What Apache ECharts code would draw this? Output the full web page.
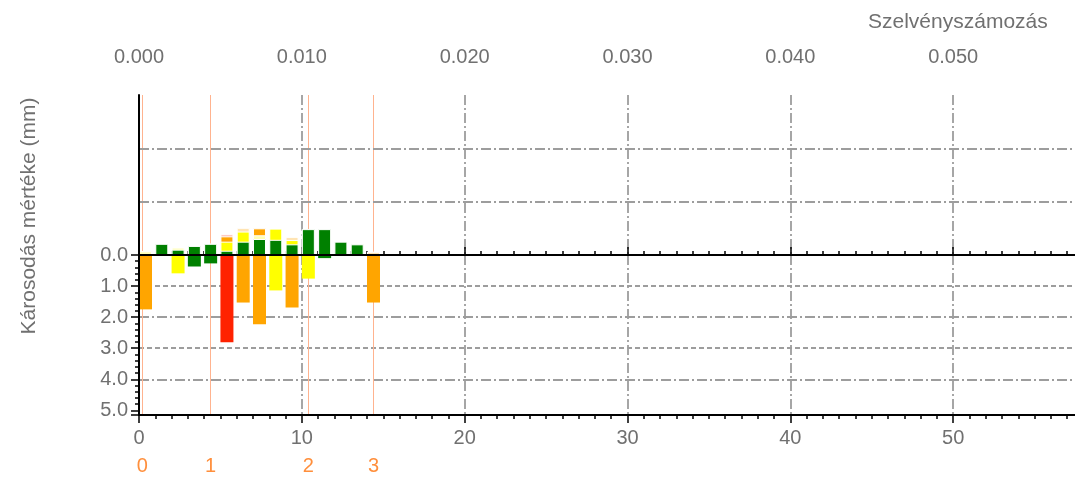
<!DOCTYPE html>
<html>
<head>
<meta charset="utf-8">
<script src="https://cdn.jsdelivr.net/npm/echarts@6/dist/echarts.min.js"></script>
<style>
  html, body { margin: 0; padding: 0; background: #fff; }
  #chart { width: 1075px; height: 477px; }
</style>
</head>
<body>
<div id="chart"></div>
<script>
// Section centres along the route (m)
const positions = [0.4, 1.4, 2.4, 3.4, 4.4, 5.4, 6.4, 7.4, 8.4, 9.4, 10.4, 11.4, 12.4, 13.4, 14.4];
// Damage depth below the reference line (mm)
const depthMm = [1.75, 0, 0.59, 0.37, 0.27, 2.81, 1.53, 2.23, 1.14, 1.69, 0.76, 0.10, 0, 0, 1.53];
// Extent of each damage class, stacked above the reference line
const shareGreen  = [0, 2.1, 1.0, 1.7, 2.1, 0.8, 2.5, 3.0, 2.85, 2.0, 4.85, 4.85, 2.5, 2.0, 0];
const shareYellow = [0.7, 0, 0.4, 0, 0, 1.7, 1.9, 0.7, 2.1, 0.8, 0, 0, 0, 0, 0];
const shareOrange = [0, 0, 0, 0, 0, 1.0, 0.7, 1.3, 0, 0.6, 0, 0, 0, 0, 0.6];
const shareRed    = [0, 0, 0, 0, 0, 0.4, 0, 0, 0, 0, 0, 0, 0, 0, 0];
// Kilometre posts
const postPositions = [0.2, 4.4, 10.4, 14.4];
const postLabels = ['0', '1', '2', '3'];

const FONT = '"Liberation Sans", Arial, sans-serif';
const FONT_SIZE = 20;
const TEXT = '#707070';
const GRID_GREY = '#9d9d9d';
const POST_LINE = '#ffb38f';
const POST_TEXT = '#ff8f3c';
const C = { green: '#008000', yellow: '#ffff00', orange: '#ffa500', red: '#ff2200' };
const X_MAX = 60;
const BAR_W = 13;

function depthColor(v) {
  if (v < 0.5) return C.green;
  if (v < 1.5) return C.yellow;
  if (v < 2.5) return C.orange;
  return C.red;
}
// very thin slices are drawn washed out
function tint(hex, k) {
  const n = parseInt(hex.slice(1), 16);
  const ch = [(n >> 16) & 255, (n >> 8) & 255, n & 255].map(c => Math.round(c + (255 - c) * k));
  return 'rgb(' + ch.join(',') + ')';
}

// stacked classes drawn as overlapping cumulative bars, tallest first
const layers = [
  { name: 'piros', values: shareRed, color: C.red },
  { name: 'narancs', values: shareOrange, color: C.orange },
  { name: 'sárga', values: shareYellow, color: C.yellow },
  { name: 'zöld', values: shareGreen, color: C.green }
];
const order = [shareGreen, shareYellow, shareOrange, shareRed];
function cumulative(levels) {
  return positions.map((p, i) => {
    let s = 0;
    for (let k = 0; k < levels; k++) s += order[k][i];
    return s;
  });
}
const upperSeries = layers.map((layer, li) => {
  const levels = 4 - li;
  const tops = cumulative(levels);
  return {
    name: layer.name,
    type: 'bar',
    xAxisIndex: 1,
    yAxisIndex: 0,
    barWidth: BAR_W,
    barGap: '-100%',
    z: 2,
    silent: true,
    data: positions.map((p, i) => ({
      value: [p, tops[i]],
      itemStyle: { color: layer.values[i] < 0.75 ? tint(layer.color, 0.7) : layer.color }
    })),
    itemStyle: { borderColor: '#ffffff', borderWidth: 1 }
  };
});

const labelStyle = { color: TEXT, fontFamily: FONT, fontSize: FONT_SIZE };
const dashDot = [10, 3, 2, 3];

const chart = echarts.init(document.getElementById('chart'), null, { renderer: 'canvas' });
chart.setOption({
  animation: false,
  backgroundColor: '#ffffff',
  grid: [
    { left: 139, top: 95, right: -41, height: 160, outerBoundsMode: 'none', containLabel: false },
    { left: 139, top: 255, right: -41, height: 160, outerBoundsMode: 'none', containLabel: false }
  ],
  xAxis: [
    { // top scale in kilometres
      gridIndex: 0, type: 'value', position: 'top', min: 0, max: X_MAX, interval: 10,
      axisLine: { show: true, lineStyle: { color: '#000', width: 2 } },
      axisTick: { show: true, length: 8, lineStyle: { color: '#000', width: 1.5 } },
      minorTick: { show: true, splitNumber: 10, length: 4, lineStyle: { color: '#000', width: 1.5 } },
      axisLabel: Object.assign({ margin: 28, showMaxLabel: false, formatter: v => (v / 1000).toFixed(3) }, labelStyle),
      splitLine: { show: true, lineStyle: { color: GRID_GREY, width: 1.8, type: dashDot } }
    },
    { // reference (zero) line
      gridIndex: 0, type: 'value', position: 'bottom', min: 0, max: X_MAX, z: 10,
      axisLine: { show: true, onZero: false, lineStyle: { color: '#000', width: 2 } },
      axisTick: { show: false }, axisLabel: { show: false }, splitLine: { show: false }
    },
    { // kilometre posts, upper part
      gridIndex: 0, type: 'value', position: 'top', min: 0, max: X_MAX,
      axisLine: { show: false }, axisLabel: { show: false },
      axisTick: { show: false, customValues: postPositions },
      splitLine: { show: true, lineStyle: { color: POST_LINE, width: 1 } }
    },
    { // bottom scale in metres
      gridIndex: 1, type: 'value', position: 'bottom', min: 0, max: X_MAX, interval: 10,
      axisLine: { show: true, onZero: false, lineStyle: { color: '#000', width: 2 } },
      axisTick: { show: true, length: 8, lineStyle: { color: '#000', width: 1.5 } },
      minorTick: { show: true, splitNumber: 10, length: 4, lineStyle: { color: '#000', width: 1.5 } },
      axisLabel: Object.assign({ margin: 13, showMaxLabel: false }, labelStyle),
      splitLine: { show: true, lineStyle: { color: GRID_GREY, width: 1.8, type: dashDot } }
    },
    { // kilometre posts, lower part with labels
      gridIndex: 1, type: 'value', position: 'bottom', offset: 28, min: 0, max: X_MAX,
      axisLine: { show: false },
      axisTick: { show: false, customValues: postPositions },
      axisLabel: {
        customValues: postPositions, margin: 13,
        formatter: v => postLabels[postPositions.indexOf(v)],
        color: POST_TEXT, fontFamily: FONT, fontSize: FONT_SIZE
      },
      splitLine: { show: true, lineStyle: { color: POST_LINE, width: 1 } }
    }
  ],
  yAxis: [
    { // upper stacked part
      gridIndex: 0, type: 'value', min: 0, max: 30, interval: 10, z: 10,
      axisLine: { show: true, lineStyle: { color: '#000', width: 2 } },
      axisTick: { show: false }, axisLabel: { show: false },
      splitLine: { show: true, lineStyle: { color: ['rgba(0,0,0,0)', GRID_GREY, GRID_GREY, 'rgba(0,0,0,0)'], width: 1.8, type: dashDot } }
    },
    { // depth scale
      gridIndex: 1, type: 'value', inverse: true, min: 0, max: 5.15, interval: 1, z: 10,
      axisLine: { show: true, onZero: false, lineStyle: { color: '#000', width: 2 } },
      axisTick: { show: true, length: 8, lineStyle: { color: '#000', width: 1.5 } },
      minorTick: { show: true, splitNumber: 5, length: 4, lineStyle: { color: '#000', width: 1.5 } },
      axisLabel: Object.assign({ margin: 11, showMaxLabel: false, formatter: v => v.toFixed(1) }, labelStyle),
      splitLine: { show: false }
    },
    { // dashed guides at odd millimetres
      gridIndex: 1, type: 'value', inverse: true, min: 0, max: 5.15, interval: 1,
      axisLine: { show: false }, axisTick: { show: false }, axisLabel: { show: false },
      splitLine: { show: true, lineStyle: {
        color: ['rgba(0,0,0,0)', GRID_GREY, 'rgba(0,0,0,0)', GRID_GREY, 'rgba(0,0,0,0)', 'rgba(0,0,0,0)', 'rgba(0,0,0,0)'],
        width: 1.8, type: [5, 3] } }
    },
    { // dash-dot guides at even millimetres
      gridIndex: 1, type: 'value', inverse: true, min: 0, max: 5.15, interval: 2,
      axisLine: { show: false }, axisTick: { show: false }, axisLabel: { show: false },
      splitLine: { show: true, lineStyle: {
        color: ['rgba(0,0,0,0)', GRID_GREY, GRID_GREY, 'rgba(0,0,0,0)'],
        width: 1.8, type: dashDot } }
    }
  ],
  graphic: [
    {
      type: 'text', x: 29, y: 216, rotation: Math.PI / 2,
      style: { text: 'Károsodás mértéke (mm)', fill: TEXT, font: '21px ' + FONT, align: 'center', verticalAlign: 'middle' }
    },
    {
      type: 'text', x: 868, y: 22,
      style: { text: 'Szelvényszámozás', fill: TEXT, font: '21px ' + FONT, align: 'left', verticalAlign: 'middle' }
    }
  ],
  series: upperSeries.concat([{
    name: 'mélység',
    type: 'bar',
    xAxisIndex: 3,
    yAxisIndex: 1,
    barWidth: BAR_W,
    z: 2,
    silent: true,
    data: positions.map((p, i) => [p, depthMm[i]]),
    itemStyle: { color: params => depthColor(params.value[1]) }
  }])
});
</script>
</body>
</html>
